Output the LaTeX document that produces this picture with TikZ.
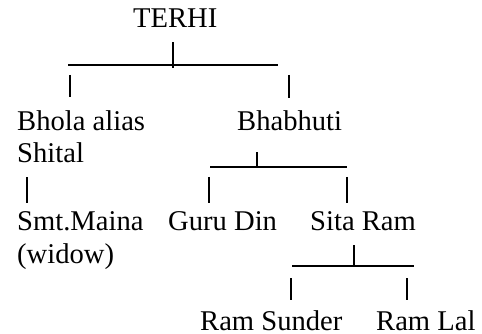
\documentclass[tikz,border=0pt]{standalone}
\usepackage{fontspec}
\setmainfont{Liberation Serif}
\usetikzlibrary{
  calc
}

\begin{document}
\begin{tikzpicture}[x=1pt, y=-1pt,
    person/.style={anchor=base west, inner sep=0pt, align=left,
      font=\fontsize{28.6}{32.5}\selectfont},
    link/.style={draw=black, line width=1.2pt}]
      \useasboundingbox (0,0) rectangle (482,334);

      \node [person] (Terhi) at (133,28) {TERHI};
      \node [person] (Bhola) at (17,163) {Bhola alias\\Shital};
      \node [person] (Bhabhuti) at (237,131) {Bhabhuti};
      \node [person] (Maina) at (17,263) {Smt.Maina\\(widow)};
      \node [person] (Guru) at (168,230) {Guru Din};
      \node [person] (Sita) at (310,230) {Sita Ram};
      \node [person] (Sunder) at (200,330) {Ram Sunder};
      \node [person] (Lal) at (376,330) {Ram Lal};

      \coordinate (B1l) at (68,65);
      \coordinate (B1r) at (278,65);
      \coordinate (B1m) at (173,65);
      \coordinate (B1a) at (70,65);
      \coordinate (B1b) at (289,65);
      \draw [link] (B1l) -- (B1r);
      \draw [link, shorten <=14pt, shorten >=-3pt] (Terhi.south -| B1m) -- (B1m);
      \draw [link, shorten <=10pt, shorten >=13pt] (B1a) -- (B1a |- Bhola.north);
      \draw [link, shorten <=10pt, shorten >=13pt] (B1b) -- (B1b |- Bhabhuti.north);

      \coordinate (B2l) at (210,167);
      \coordinate (B2r) at (347,167);
      \coordinate (B2m) at (257,167);
      \coordinate (B2a) at (209,167);
      \coordinate (B2b) at (347,167);
      \draw [link] (B2l) -- (B2r);
      \draw [link, shorten <=21pt] (Bhabhuti.south -| B2m) -- (B2m);
      \draw [link, shorten <=14pt, shorten >=8pt] (Bhola.south -| 27,0) -- (Maina.north -| 27,0);
      \draw [link, shorten <=10pt, shorten >=8pt] (B2a) -- (B2a |- Guru.north);
      \draw [link, shorten <=10pt, shorten >=8pt] (B2b) -- (B2b |- Sita.north);

      \coordinate (B3l) at (292,266);
      \coordinate (B3r) at (414,266);
      \coordinate (B3m) at (354,266);
      \coordinate (B3a) at (291,266);
      \coordinate (B3b) at (407,266);
      \draw [link] (B3l) -- (B3r);
      \draw [link, shorten <=15pt] (Sita.south -| B3m) -- (B3m);
      \draw [link, shorten <=12pt, shorten >=10pt] (B3a) -- (B3a |- Sunder.north);
      \draw [link, shorten <=12pt, shorten >=10pt] (B3b) -- (B3b |- Lal.north);
    \end{tikzpicture}
\end{document}
